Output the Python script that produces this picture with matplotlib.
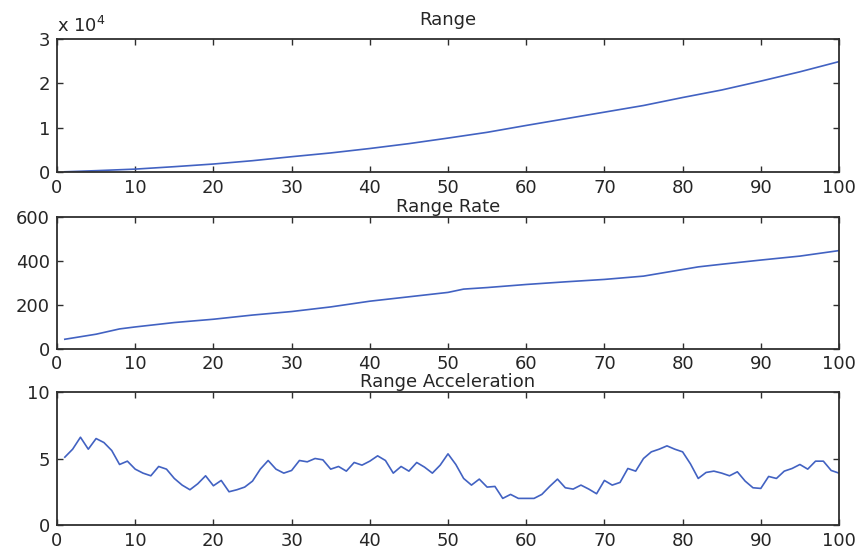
import matplotlib
matplotlib.use("Agg")
import matplotlib.pyplot as plt
from matplotlib.ticker import FuncFormatter, MultipleLocator

plt.rcParams['font.family'] = ['DejaVu Sans']

# Range (m), sampled along the track
range_t = [1, 5, 10, 15, 20, 25, 30, 35, 40, 45, 50, 55, 60, 65, 70, 75, 80, 85, 90, 95, 100]
range_v = [50, 300, 650, 1200, 1800, 2550, 3450, 4300, 5300, 6400, 7650, 8950, 10500,
           12000, 13500, 15000, 16800, 18500, 20500, 22600, 24900]

# Range rate (m/s)
rate_t = [1, 5, 8, 10, 15, 20, 25, 30, 35, 40, 45, 50, 52, 55, 60, 65, 70, 75, 80, 82, 85, 90, 95, 100]
rate_v = [42, 65, 89, 98, 118, 133, 152, 168, 189, 215, 235, 255, 270, 277, 291, 303,
          314, 329, 359, 371, 383, 402, 420, 445]

# Range acceleration (m/s^2), one sample per step
acc_t = list(range(1, 101))
acc_v = [5.1, 5.7, 6.6, 5.7, 6.5, 6.2, 5.6, 4.55, 4.8, 4.2,
         3.9, 3.7, 4.4, 4.2, 3.5, 3.0, 2.65, 3.1, 3.7, 2.95,
         3.35, 2.5, 2.65, 2.85, 3.3, 4.2, 4.85, 4.2, 3.9, 4.1,
         4.85, 4.75, 5.0, 4.9, 4.2, 4.4, 4.05, 4.7, 4.5, 4.8,
         5.2, 4.85, 3.9, 4.4, 4.05, 4.7, 4.35, 3.9, 4.5, 5.35,
         4.55, 3.5, 3.0, 3.45, 2.85, 2.9, 2.0, 2.3, 2.0, 2.0,
         2.0, 2.3, 2.9, 3.45, 2.8, 2.7, 3.0, 2.7, 2.35, 3.35,
         3.0, 3.2, 4.25, 4.05, 5.0, 5.5, 5.7, 5.95, 5.7, 5.5,
         4.6, 3.5, 3.95, 4.05, 3.9, 3.7, 4.0, 3.3, 2.8, 2.75,
         3.65, 3.5, 4.05, 4.25, 4.55, 4.2, 4.8, 4.8, 4.1, 3.9]

x_ticks = [0, 10, 20, 30, 40, 50, 60, 70, 80, 90, 100]

line_color = '#4262c2'
axis_color = '#2e2e2e'
text_color = '#262626'
fs = 13

fig = plt.figure(figsize=(8.6, 5.53), dpi=100)
fig.patch.set_facecolor('white')

left, width = 57 / 860, 782 / 860
panels = [
    dict(bottom=1 - 172 / 553, height=133 / 553, t=range_t, v=range_v, title='Range',
         ylim=(0, 30000), ystep=10000, tpad=10),
    dict(bottom=1 - 348.5 / 553, height=132 / 553, t=rate_t, v=rate_v, title='Range Rate',
         ylim=(0, 600), ystep=200, tpad=3.5),
    dict(bottom=1 - 525 / 553, height=133 / 553, t=acc_t, v=acc_v, title='Range Acceleration',
         ylim=(0, 10), ystep=5, tpad=3.5),
]

axes = []
for p in panels:
    ax = fig.add_axes([left, p['bottom'], width, p['height']])
    ax.plot(p['t'], p['v'], color=line_color, lw=1.2)
    ax.set_xlim(0, 100)
    ax.set_ylim(*p['ylim'])
    ax.set_xticks(x_ticks)
    ax.yaxis.set_major_locator(MultipleLocator(p['ystep']))
    ax.set_title(p['title'], fontsize=fs, pad=p['tpad'], color=text_color)
    ax.tick_params(direction='in', top=True, right=True, length=4.5, width=1.0,
                   labelsize=fs, colors=axis_color, labelcolor=text_color, pad=5)
    for s in ax.spines.values():
        s.set_color(axis_color)
        s.set_linewidth(1.3)
    axes.append(ax)

# Range axis labelled in units of 10^4
axes[0].yaxis.set_major_formatter(FuncFormatter(lambda y, pos: f'{y / 10000:g}'))
axes[0].annotate(r'x 10$^{4}$', xy=(0.0, 1.0), xycoords='axes fraction',
                 xytext=(0, 5), textcoords='offset points',
                 fontsize=fs, color=text_color, ha='left', va='baseline')

fig.savefig('out.png', dpi=100, facecolor='white')
